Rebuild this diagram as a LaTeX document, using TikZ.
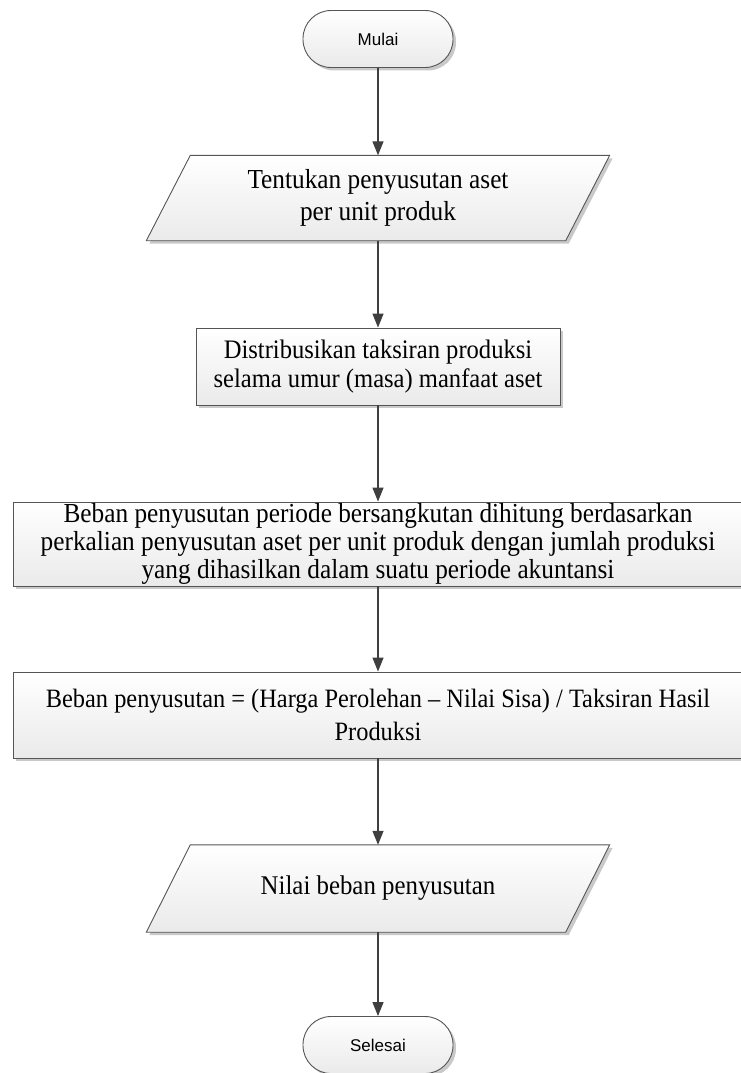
\documentclass[tikz,border=0pt]{standalone}
\usepackage{fontspec}
\setmainfont{Liberation Serif}
\newfontfamily\narrowserif{Liberation Serif}[FakeStretch=0.92]
\newfontfamily\labelsans{Liberation Sans}
\usetikzlibrary{arrows.meta,shadows,backgrounds}

\definecolor{edgegray}{HTML}{555555}
\definecolor{linegray}{HTML}{3F3F3F}
\definecolor{shadegray}{HTML}{C9C9C9}
\definecolor{fillbottom}{HTML}{EAEAEA}

\tikzset{
  shapefill/.style={draw=edgegray, line width=0.9pt, top color=white,
    bottom color=fillbottom,
    drop shadow={shadow xshift=3pt, shadow yshift=-3pt, fill=shadegray, opacity=1}},
  terminal/.style={shapefill, rectangle, rounded corners=28pt, inner sep=0pt,
    minimum width=150pt, minimum height=57pt,
    font=\labelsans\fontsize{17}{20}\selectfont},
  process/.style={shapefill, rectangle, inner sep=0pt, align=center},
  iobox/.style={rectangle, inner sep=0pt, minimum width=419pt, align=center},
  flow/.style={draw=linegray, line width=1.3pt,
    -{Triangle[length=14pt,width=11pt]}}
}

\begin{document}
\begin{tikzpicture}[x=1pt,y=-1pt]
  \useasboundingbox (0,0) rectangle (740,1073);

  % terminators
  \node[terminal] (start) at (378,39) {Mulai};
  \node[terminal] (stop)  at (378,1045) {Selesai};

  % input / output blocks (outline drawn on the background layer)
  \node[iobox, minimum height=85pt, font=\narrowserif\fontsize{27.5}{32}\selectfont]
    (in1) at (378,198) {Tentukan penyusutan aset\\per unit produk};
  \node[iobox, minimum height=87pt, font=\narrowserif\fontsize{27}{31}\selectfont]
    (out1) at (378,888.5) {Nilai beban penyusutan};

  % process blocks
  \node[process, minimum width=364pt, minimum height=77pt,
        font=\narrowserif\fontsize{26.7}{29}\selectfont] (dist) at (378,366.5)
    {Distribusikan taksiran produksi\\selama umur (masa) manfaat aset};
  \node[process, minimum width=730pt, minimum height=84pt,
        font=\narrowserif\fontsize{27.5}{28}\selectfont] (calc) at (378,544)
    {Beban penyusutan periode bersangkutan dihitung berdasarkan\\
     perkalian penyusutan aset per unit produk dengan jumlah produksi\\
     yang dihasilkan dalam suatu periode akuntansi};
  \node[process, minimum width=730pt, minimum height=86pt,
        font=\narrowserif\fontsize{26.5}{33}\selectfont] (form) at (378,715)
    {Beban penyusutan = (Harga Perolehan – Nilai Sisa) / Taksiran Hasil\\
     Produksi};

  \begin{scope}[on background layer]
    \foreach \p in {in1,out1}{
      \path[shapefill] ([xshift=22pt]\p.north west) -- ([xshift=22pt]\p.north east)
        -- ([xshift=-22pt]\p.south east) -- ([xshift=-22pt]\p.south west) -- cycle;
    }
  \end{scope}

  % connectors
  \draw[flow] (start.south) -- (in1.north);
  \draw[flow] (in1.south) -- (dist.north);
  \draw[flow] (dist.south) -- (calc.north);
  \draw[flow] (calc.south) -- (form.north);
  \draw[flow] (form.south) -- (out1.north);
  \draw[flow] (out1.south) -- (stop.north);
\end{tikzpicture}
\end{document}
